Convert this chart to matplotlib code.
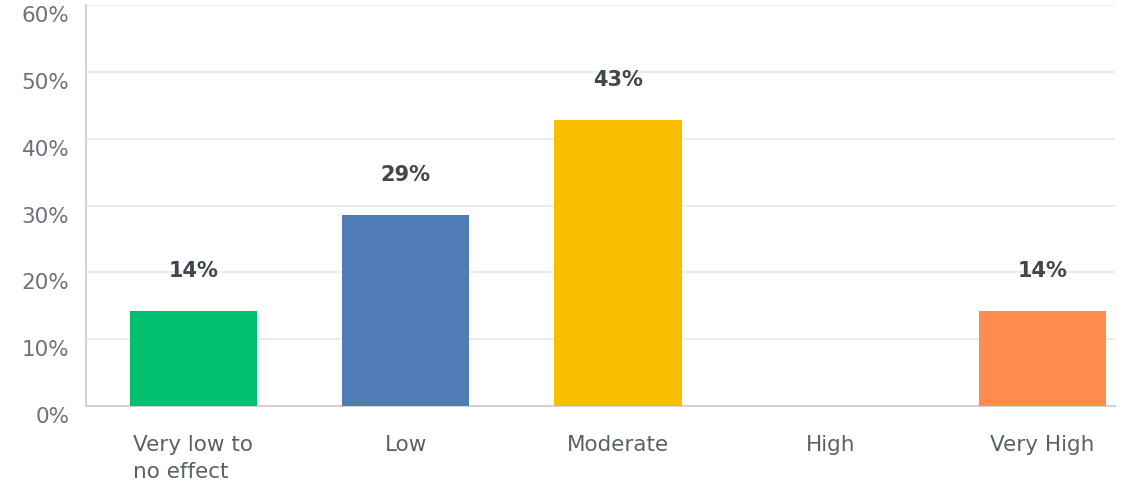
import matplotlib
matplotlib.use("Agg")
import matplotlib.pyplot as plt
import matplotlib.transforms as mtransforms

categories = ["Very low to\nno effect", "Low", "Moderate", "High", "Very High"]
shares = [14.29, 28.57, 42.86, 0.0, 14.29]
bar_colors = ["#00BF6F", "#507CB6", "#F9BE00", "#9DA0A3", "#FF8B4F"]
y_ticks = [0, 10, 20, 30, 40, 50, 60]
y_tick_labels = [f"{t}%" for t in y_ticks]

plt.rcParams["font.family"] = ["DejaVu Sans"]

fig = plt.figure(figsize=(11.27, 4.85), dpi=100)
ax = fig.add_axes([0.0763, 0.1608, 0.9127, 0.8268])

x = list(range(len(categories)))
ax.bar(x, shares, width=0.6, color=bar_colors, zorder=3)

# value labels above the bars, skipped for empty categories
for xi, v in zip(x, shares):
    if v > 0:
        ax.annotate(f"{v:.0f}%", (xi, v), xytext=(0, 29.5), textcoords="offset points",
                    ha="center", va="center", fontsize=15, fontweight="bold",
                    color="#3f474f", zorder=4)

ax.set_xlim(-0.506, 4.34)
ax.set_ylim(0, 60)
ax.set_yticks(y_ticks)
ax.set_yticklabels(y_tick_labels)
ax.set_xticks(x)
ax.set_xticklabels(categories, multialignment="left", linespacing=1.45)

ax.tick_params(axis="y", length=0, pad=12, labelsize=15.5, labelcolor="#6b7279")
ax.tick_params(axis="x", length=0, pad=20, labelsize=15.5, labelcolor="#5a6168")

# nudge the y labels a little below their gridlines
shift = mtransforms.ScaledTranslation(0, -8 / 100, fig.dpi_scale_trans)
for lbl in ax.get_yticklabels():
    lbl.set_transform(lbl.get_transform() + shift)

ax.yaxis.grid(True, color="#ececec", linewidth=1.5, zorder=0)
ax.xaxis.grid(False)
for side in ("top", "right"):
    ax.spines[side].set_visible(False)
ax.spines["left"].set_color("#d3d3d3")
ax.spines["left"].set_linewidth(1.5)
ax.spines["bottom"].set_color("#d3d3d3")
ax.spines["bottom"].set_linewidth(1.5)

fig.savefig("out.png", dpi=100)
